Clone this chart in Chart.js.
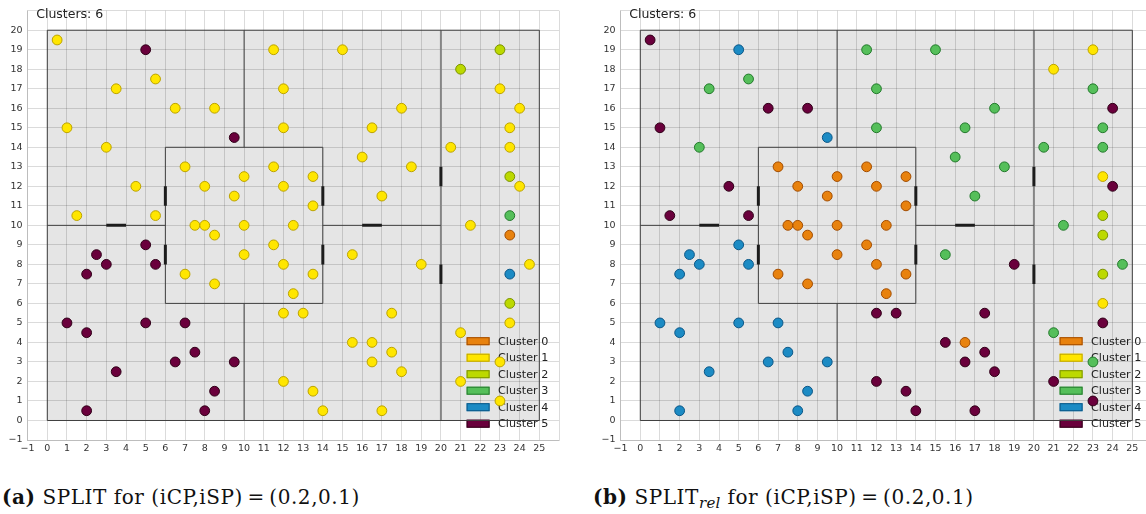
<!DOCTYPE html>
<html>
<head>
<meta charset="utf-8">
<script src="https://cdn.jsdelivr.net/npm/chart.js@4.4.1/dist/chart.umd.min.js"></script>
<style>
  html, body { margin: 0; padding: 0; background: #fff; overflow: hidden; width: 1146px; height: 514px; }
  canvas { position: absolute; top: 0; }
  #splitChart { left: 0; }
  #splitRelChart { left: 593px; }
  .caption { position: absolute; top: 487px; font-family: "DejaVu Serif", serif; font-size: 20px; letter-spacing: 0.55px; line-height: 20px; white-space: nowrap; color: #111; }
  .caption sub { font-size: 15px; letter-spacing: 0.3px; vertical-align: -4px; line-height: 0; }
  #capA { left: 2px; }
  #capB { left: 593px; }
</style>
</head>
<body>
<canvas id="splitChart" width="570" height="462"></canvas>
<canvas id="splitRelChart" width="570" height="462"></canvas>
<div class="caption" id="capA"><b>(a)</b> SPLIT for (iCP,iSP)&#8201;=&#8201;(0.2,0.1)</div>
<div class="caption" id="capB"><b>(b)</b> SPLIT<sub><i>rel</i></sub> for (iCP,iSP)&#8201;=&#8201;(0.2,0.1)</div>
<script>
// Sensor positions in the floor plan (metres)
const pointX = [
  0.5, 5, 3.5, 5.5, 6.5, 8.5, 1, 9.5, 3, 4.5, 1.5, 5.5,
  7, 8, 10, 9.5, 7.5, 8, 10, 8.5, 11.5, 12, 13.5, 13.5, 12.5, 11.5, 10, 12, 7, 8.5, 13.5, 12.5,
  11.5, 15, 12, 18, 12, 16.5, 16, 18.5, 17,
  23, 21, 23, 24, 23.5, 20.5, 23.5, 23.5, 24, 23.5, 21.5, 23.5, 24.5, 23.5, 23.5, 23.5, 21, 23, 21, 23,
  15.5, 19, 12, 13, 17.5, 15.5, 16.5, 17.5, 16.5, 18, 12, 13.5, 14, 17,
  5, 2.5, 3, 5.5, 2, 1, 5, 7, 2, 7.5, 6.5, 9.5, 3.5, 8.5, 2, 8
];
const pointY = [
  19.5, 19, 17, 17.5, 16, 16, 15, 14.5, 14, 12, 10.5, 10.5,
  13, 12, 12.5, 11.5, 10, 10, 10, 9.5, 13, 12, 12.5, 11, 10, 9, 8.5, 8, 7.5, 7, 7.5, 6.5,
  19, 19, 17, 16, 15, 15, 13.5, 13, 11.5,
  19, 18, 17, 16, 15, 14, 14, 12.5, 12, 10.5, 10, 9.5, 8, 7.5, 6, 5, 4.5, 3, 2, 1,
  8.5, 8, 5.5, 5.5, 5.5, 4, 4, 3.5, 3, 2.5, 2, 1.5, 0.5, 0.5,
  9, 8.5, 8, 8, 7.5, 5, 5, 5, 4.5, 3.5, 3, 3, 2.5, 1.5, 0.5, 0.5
];
// Cluster assigned to each sensor by SPLIT
const clusterSplit = [
  1, 5, 1, 1, 1, 1, 1, 5, 1, 1, 1, 1,
  1, 1, 1, 1, 1, 1, 1, 1, 1, 1, 1, 1, 1, 1, 1, 1, 1, 1, 1, 1,
  1, 1, 1, 1, 1, 1, 1, 1, 1,
  2, 2, 1, 1, 1, 1, 1, 2, 1, 3, 1, 0, 1, 4, 2, 1, 1, 1, 1, 1,
  1, 1, 1, 1, 1, 1, 1, 1, 1, 1, 1, 1, 1, 1,
  5, 5, 5, 5, 5, 5, 5, 5, 5, 5, 5, 5, 5, 5, 5, 5
];
// Cluster assigned to each sensor by SPLIT_rel
const clusterSplitRel = [
  5, 4, 3, 3, 5, 5, 5, 4, 3, 5, 5, 5,
  0, 0, 0, 0, 0, 0, 0, 0, 0, 0, 0, 0, 0, 0, 0, 0, 0, 0, 0, 0,
  3, 3, 3, 3, 3, 3, 3, 3, 3,
  1, 1, 3, 5, 3, 3, 3, 1, 5, 2, 3, 2, 3, 2, 1, 5, 3, 3, 5, 5,
  3, 5, 5, 5, 5, 5, 0, 5, 5, 5, 5, 5, 5, 5,
  4, 4, 4, 4, 4, 4, 4, 4, 4, 4, 4, 4, 4, 4, 4, 4
];
const clusterNames = ['Cluster 0', 'Cluster 1', 'Cluster 2', 'Cluster 3', 'Cluster 4', 'Cluster 5'];
const clusterFill = ['#e8820e', '#ffe600', '#bcd900', '#55bf5a', '#1c8bc4', '#6a003c'];
const clusterEdge = ['#a24c00', '#bca300', '#7b9200', '#23792c', '#0c5787', '#300018'];

// Axis ranges
const xRange = [-1, 26];
const yRange = [-1, 21];

// Floor plan: building outline, walls [x1, y1, x2, y2], partition and doors
const building = [0, 0, 25, 20];
const walls = [
  [0, 0, 25, 0], [0, 20, 25, 20], [0, 0, 0, 20], [25, 0, 25, 20],
  [0, 10, 6, 10], [14, 10, 20, 10], [10, 14, 10, 20], [10, 0, 10, 6],
  [6, 6, 14, 6], [6, 14, 14, 14], [6, 6, 6, 14], [14, 6, 14, 14]
];
const partitions = [[20, 0, 20, 20]];
const doors = [
  [3, 10, 4, 10], [16, 10, 17, 10], [6, 11, 6, 12], [6, 8, 6, 9],
  [14, 11, 14, 12], [14, 8, 14, 9], [20, 12, 20, 13], [20, 7, 20, 8]
];

const FONT = 'DejaVu Sans';
const minus = v => (v < 0 ? '\u2212' + Math.abs(v) : String(v));

function segmentSets(list, color, width) {
  return list.map(s => ({
    type: 'scatter',
    data: [{ x: s[0], y: s[1] }, { x: s[2], y: s[3] }],
    showLine: true,
    borderColor: color,
    borderWidth: width,
    borderCapStyle: 'butt',
    pointRadius: 0,
    pointHoverRadius: 0,
    order: 10
  }));
}

function clusterSets(labels) {
  return clusterNames.map((name, c) => ({
    type: 'scatter',
    label: name,
    data: pointX.map((x, i) => ({ x, y: pointY[i], c: labels[i] })).filter(p => p.c === c),
    backgroundColor: clusterFill[c],
    borderColor: clusterEdge[c],
    borderWidth: 1,
    pointRadius: 4.9,
    pointHoverRadius: 4.9,
    order: 0
  }));
}

// Grey floor area under the grid
const floorPlugin = {
  id: 'floor',
  beforeDraw(chart) {
    const { ctx, scales: { x, y } } = chart;
    const x0 = x.getPixelForValue(building[0]), x1 = x.getPixelForValue(building[2]);
    const y0 = y.getPixelForValue(building[1]), y1 = y.getPixelForValue(building[3]);
    ctx.save();
    ctx.fillStyle = '#e5e5e5';
    ctx.fillRect(x0, y1, x1 - x0, y0 - y1);
    ctx.restore();
  }
};

// Cluster legend in the lower right corner, below the markers
const clusterLegend = {
  id: 'clusterLegend',
  beforeDatasetsDraw(chart) {
    const { ctx, chartArea: a } = chart;
    ctx.save();
    ctx.font = '11.2px "' + FONT + '"';
    ctx.textBaseline = 'middle';
    ctx.textAlign = 'left';
    const n = clusterNames.length;
    clusterNames.forEach((name, i) => {
      const cy = a.bottom - 16.3 - (n - 1 - i) * 16.5;
      const sx = a.right - 92.4;
      ctx.fillStyle = clusterFill[i];
      ctx.fillRect(sx, cy - 4, 23, 8);
      ctx.strokeStyle = clusterEdge[i];
      ctx.lineWidth = 1;
      ctx.strokeRect(sx + 0.5, cy - 3.5, 22, 7);
      ctx.fillStyle = '#222';
      ctx.fillText(name, a.right - 61, cy + 0.5);
    });
    ctx.restore();
  }
};

// Number of clusters in the top-left corner
const clusterCount = {
  id: 'clusterCount',
  afterDatasetsDraw(chart) {
    const { ctx, chartArea: a } = chart;
    ctx.save();
    ctx.font = '12.5px "' + FONT + '"';
    ctx.textBaseline = 'middle';
    ctx.fillStyle = '#222';
    ctx.fillText('Clusters: ' + clusterNames.length, a.left + 8.6, 14.7);
    ctx.restore();
  }
};

function axis(range, isX) {
  return {
    type: 'linear',
    min: range[0],
    max: range[1],
    grid: { color: 'rgba(0,0,0,0.14)', lineWidth: 1, drawTicks: false },
    border: { display: true, color: 'rgba(0,0,0,0.14)' },
    ticks: {
      stepSize: 1,
      autoSkip: false,
      maxRotation: 0,
      padding: isX ? 3 : 5,
      color: '#333',
      font: { family: FONT, size: 9.5 },
      callback: v => (v === range[1] ? '' : minus(v))
    },
    afterFit: isX ? (s => { s.height = 22; }) : (s => { s.width = 27.6; })
  };
}

function build(id, labels) {
  return new Chart(document.getElementById(id), {
    type: 'scatter',
    data: {
      datasets: [
        ...clusterSets(labels),
        ...segmentSets(doors, '#1c1c1c', 3),
        ...segmentSets(walls, '#404040', 1),
        ...segmentSets(partitions, '#858585', 2)
      ]
    },
    options: {
      responsive: false,
      animation: false,
      devicePixelRatio: 1,
      layout: { padding: { top: 6.3, right: 11, left: 0, bottom: 0 } },
      plugins: { legend: { display: false }, tooltip: { enabled: false } },
      events: [],
      scales: { x: axis(xRange, true), y: axis(yRange, false) }
    },
    plugins: [floorPlugin, clusterLegend, clusterCount]
  });
}

build('splitChart', clusterSplit);
build('splitRelChart', clusterSplitRel);
</script>
</body>
</html>
